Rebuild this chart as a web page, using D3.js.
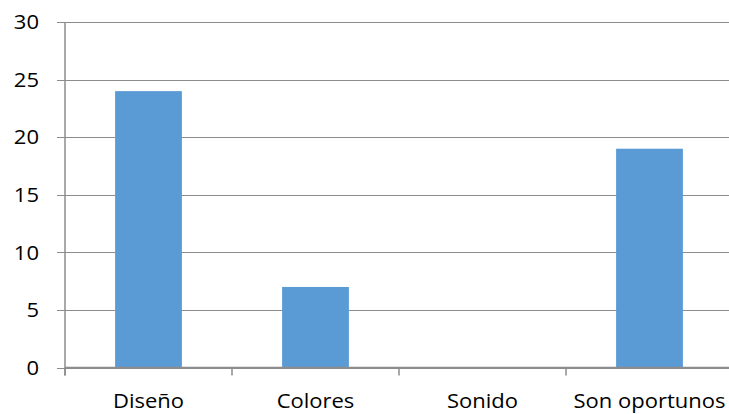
<!DOCTYPE html>
<html>
<head>
<meta charset="utf-8">
<script src="https://cdn.jsdelivr.net/npm/d3@7"></script>
<style>
  html, body { margin: 0; padding: 0; background: #fff; }
  svg { display: block; }
  text { font-family: "Open Sans", "Noto Sans", sans-serif; fill: #000; }
</style>
</head>
<body>
<svg id="chart" width="729" height="414"></svg>
<script>
// Chart data
const categories = ["Diseño", "Colores", "Sonido", "Son oportunos"];
const values = [24, 7, 0, 19];
const yTicks = [0, 5, 10, 15, 20, 25, 30];

const plotLeft = 65, plotRight = 733, plotTop = 22, plotBottom = 367.6;
const barColor = "#5B9BD5";
const gridColor = "#8C8C8C";
const fontSize = 20;
const stretch = 1.1; // labels are set a little wider than the face's natural width

const svg = d3.select("#chart");

const x = d3.scaleBand()
  .domain(categories)
  .range([plotLeft, plotRight])
  .paddingInner(0.6)
  .paddingOuter(0.3);

const y = d3.scaleLinear()
  .domain([0, 30])
  .range([plotBottom, plotTop]);

// Horizontal gridlines with their short ticks on the left
const yAxis = d3.axisLeft(y)
  .tickValues(yTicks)
  .tickSize(-(plotRight - plotLeft + 8))
  .tickFormat("");
const gy = svg.append("g")
  .attr("transform", `translate(${plotLeft - 8},0)`);
gy.call(yAxis);
gy.select(".domain").remove();
gy.selectAll(".tick line")
  .attr("x1", 0)
  .attr("x2", plotRight - plotLeft + 8)
  .attr("stroke", gridColor)
  .attr("stroke-width", 1)
  .attr("shape-rendering", "crispEdges");

// Y tick labels
svg.append("g").selectAll("text")
  .data(yTicks)
  .join("text")
  .attr("transform", d => `translate(39,${y(d)}) scale(${stretch},1)`)
  .attr("text-anchor", "end")
  .attr("dy", "0.36em")
  .attr("font-size", fontSize)
  .text(d => d);

// Bars
svg.append("g").selectAll("rect")
  .data(values)
  .join("rect")
  .attr("x", (d, i) => x(categories[i]))
  .attr("y", d => y(d))
  .attr("width", x.bandwidth())
  .attr("height", d => y(0) - y(d))
  .attr("fill", barColor);

// Axis lines
svg.append("line")
  .attr("x1", plotLeft).attr("x2", plotLeft)
  .attr("y1", plotTop).attr("y2", plotBottom + 8)
  .attr("stroke", gridColor).attr("stroke-width", 1.5);
svg.append("line")
  .attr("x1", plotLeft).attr("x2", plotRight)
  .attr("y1", plotBottom).attr("y2", plotBottom)
  .attr("stroke", gridColor).attr("stroke-width", 1.5);

// Category boundary ticks on the x axis
const step = x.step();
const boundaries = d3.range(categories.length + 1).map(i => x(categories[0]) - step * x.paddingInner() / 2 + i * step);
svg.append("g").selectAll("line")
  .data(boundaries)
  .join("line")
  .attr("x1", d => d).attr("x2", d => d)
  .attr("y1", plotBottom).attr("y2", plotBottom + 8)
  .attr("stroke", gridColor).attr("stroke-width", 1.5);

// Category labels
svg.append("g").selectAll("text")
  .data(categories)
  .join("text")
  .attr("transform", d => `translate(${x(d) + x.bandwidth() / 2},408) scale(${stretch},1)`)
  .attr("text-anchor", "middle")
  .attr("font-size", fontSize)
  .text(d => d);
</script>
</body>
</html>
